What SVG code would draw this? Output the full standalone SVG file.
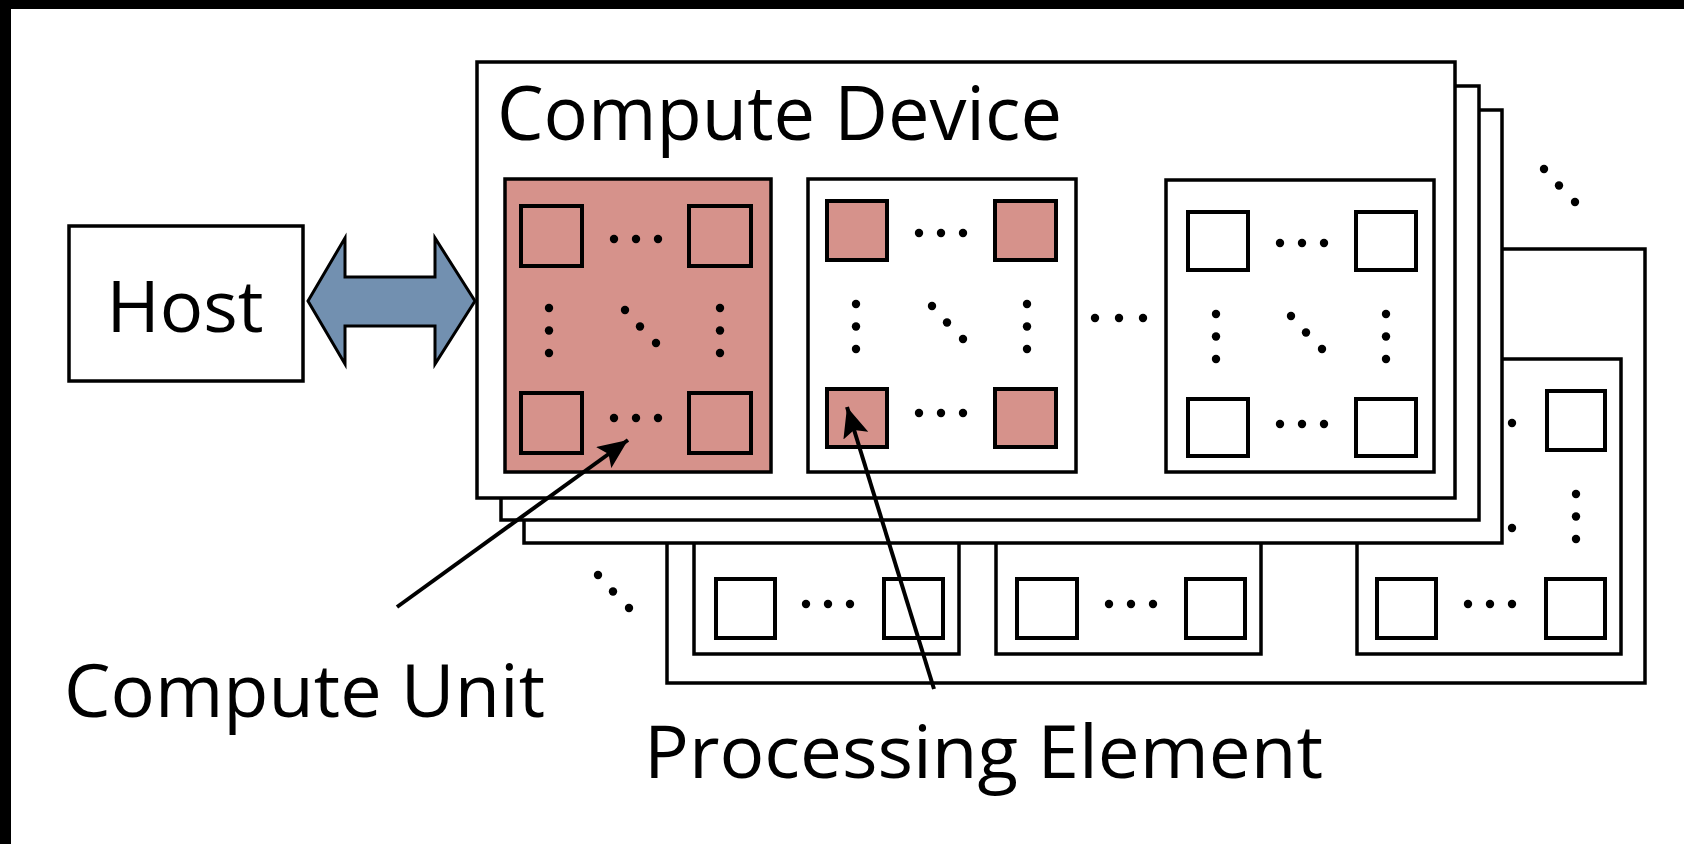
<svg xmlns="http://www.w3.org/2000/svg" width="1684" height="844" viewBox="0 0 1684 844">
<style>
.frame{fill:#000}
.box{fill:#fff;stroke:#000;stroke-width:3.5}
.cu{fill:#fff;stroke:#000;stroke-width:3.5}
.cu-pink{fill:#d6928b;stroke:#000;stroke-width:3.5}
.pe{fill:#fff;stroke:#000;stroke-width:4}
.pe-pink{fill:#d6928b;stroke:#000;stroke-width:4}
.dot{fill:#000}
.link{fill:#7290b0;stroke:#000;stroke-width:3;stroke-linejoin:miter}
.conn{stroke:#000;stroke-width:4;fill:none}
text{font-family:"Open Sans","Noto Sans","DejaVu Sans",sans-serif;fill:#000}
</style>
<defs>
<g id="hdots"><circle class="dot" cx="0" cy="0" r="4.2"/><circle class="dot" cx="22" cy="0" r="4.2"/><circle class="dot" cx="44" cy="0" r="4.2"/></g>
<g id="vdots"><circle class="dot" cx="0" cy="0" r="4.2"/><circle class="dot" cx="0" cy="22.5" r="4.2"/><circle class="dot" cx="0" cy="45" r="4.2"/></g>
<g id="ddots"><circle class="dot" cx="0" cy="0" r="4.2"/><circle class="dot" cx="15" cy="16.5" r="4.2"/><circle class="dot" cx="31" cy="33" r="4.2"/></g>
<marker id="head" markerUnits="userSpaceOnUse" markerWidth="30" markerHeight="26" refX="30" refY="13" orient="auto">
<path d="M0,0 L30,13 L0,26 L6,13 Z" fill="#000"/>
</marker>
</defs>

<rect x="0" y="0" width="1684" height="844" fill="#fff"/>
<rect class="frame" x="0" y="0" width="1684" height="9"/>
<rect class="frame" x="0" y="0" width="11" height="844"/>

<g id="rear-device">
<rect class="box" x="667" y="249" width="978" height="434"/>
<rect class="cu" x="694" y="359" width="265" height="295"/>
<rect class="cu" x="996" y="359" width="265" height="295"/>
<rect class="cu" x="1357" y="359" width="264" height="295"/>
<rect class="pe" x="716" y="579" width="59" height="59"/>
<rect class="pe" x="884" y="579" width="59" height="59"/>
<rect class="pe" x="1017" y="579" width="60" height="59"/>
<rect class="pe" x="1186" y="579" width="59" height="59"/>
<rect class="pe" x="1377" y="579" width="59" height="59"/>
<rect class="pe" x="1546" y="579" width="59" height="59"/>
<rect class="pe" x="1547" y="391" width="58" height="59"/>
<use href="#hdots" x="806" y="604"/>
<use href="#hdots" x="1109" y="604"/>
<use href="#hdots" x="1468" y="604"/>
<use href="#hdots" x="1468" y="423"/>
<use href="#vdots" x="1576" y="494"/>
<use href="#ddots" x="1481" y="495"/>
</g>

<g id="stack-back">
<rect class="box" x="524" y="110" width="978" height="433"/>
<rect class="box" x="501" y="86" width="978" height="434"/>
</g>

<g id="compute-device">
<rect class="box" x="477" y="62" width="978" height="436"/>
<text x="497" y="140" font-size="75" textLength="565" lengthAdjust="spacingAndGlyphs">Compute Device</text>
</g>

<g id="cu1">
<rect class="cu-pink" x="505" y="179" width="266" height="293"/>
<rect class="pe-pink" x="521" y="206" width="61" height="60"/>
<rect class="pe-pink" x="689" y="206" width="62" height="60"/>
<rect class="pe-pink" x="521" y="393" width="61" height="60"/>
<rect class="pe-pink" x="689" y="393" width="62" height="60"/>
<use href="#hdots" x="614" y="239"/>
<use href="#hdots" x="614" y="418"/>
<use href="#vdots" x="549" y="308"/>
<use href="#vdots" x="720" y="308"/>
<use href="#ddots" x="625" y="310"/>
</g>

<g id="cu2">
<rect class="cu" x="808" y="179" width="268" height="293"/>
<rect class="pe-pink" x="827" y="201" width="60" height="59"/>
<rect class="pe-pink" x="995" y="201" width="61" height="59"/>
<rect class="pe-pink" x="827" y="389" width="60" height="58"/>
<rect class="pe-pink" x="995" y="389" width="61" height="58"/>
<use href="#hdots" x="919" y="233"/>
<use href="#hdots" x="919" y="413"/>
<use href="#vdots" x="856" y="304"/>
<use href="#vdots" x="1027" y="304"/>
<use href="#ddots" x="932" y="306"/>
</g>

<g id="cu-gap-dots">
<circle class="dot" cx="1095" cy="318" r="4.2"/>
<circle class="dot" cx="1119" cy="318" r="4.2"/>
<circle class="dot" cx="1143" cy="318" r="4.2"/>
</g>

<g id="cu3">
<rect class="cu" x="1166" y="180" width="268" height="292"/>
<rect class="pe" x="1188" y="212" width="60" height="58"/>
<rect class="pe" x="1356" y="212" width="60" height="58"/>
<rect class="pe" x="1188" y="399" width="60" height="57"/>
<rect class="pe" x="1356" y="399" width="60" height="57"/>
<use href="#hdots" x="1280" y="243"/>
<use href="#hdots" x="1280" y="424"/>
<use href="#vdots" x="1216" y="314"/>
<use href="#vdots" x="1386" y="314"/>
<use href="#ddots" x="1291" y="316"/>
</g>

<g id="more-devices">
<use href="#ddots" x="1544" y="169"/>
<use href="#ddots" x="598" y="575"/>
</g>

<g id="host">
<rect class="box" x="69" y="226" width="234" height="155"/>
<text x="185" y="332" font-size="71" text-anchor="middle" textLength="157" lengthAdjust="spacingAndGlyphs">Host</text>
</g>

<g id="labels">
<text x="64" y="717" font-size="73" textLength="481" lengthAdjust="spacingAndGlyphs">Compute Unit</text>
<text x="644" y="778" font-size="73" textLength="679" lengthAdjust="spacingAndGlyphs">Processing Element</text>
</g>

<g id="connectors">
<polygon class="link" points="308,301 345,238 345,277 435,277 435,238 475,301 435,364 435,326 345,326 345,364"/>
<line class="conn" x1="397" y1="607" x2="628" y2="440" marker-end="url(#head)"/>
<line class="conn" x1="934" y1="689" x2="847" y2="407" marker-end="url(#head)"/>
</g>
</svg>
